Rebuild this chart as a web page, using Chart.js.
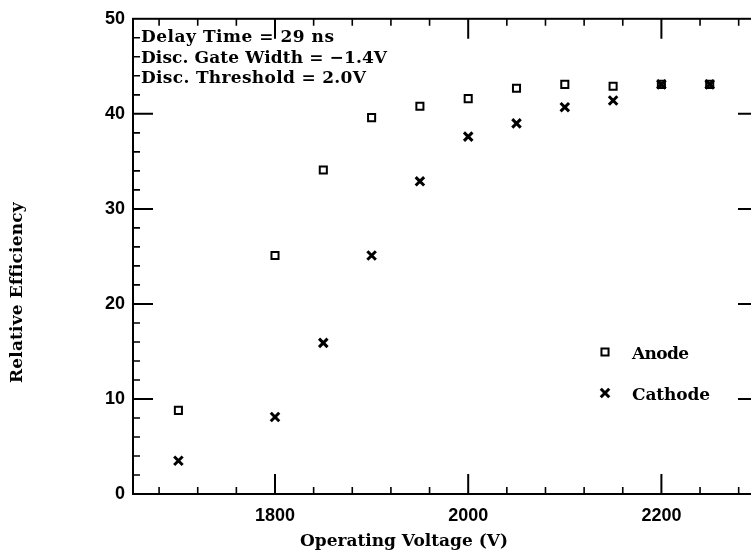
<!DOCTYPE html>
<html>
<head>
<meta charset="utf-8">
<script src="https://cdn.jsdelivr.net/npm/chart.js@4.4.1/dist/chart.umd.min.js"></script>
<style>
  html, body { margin: 0; padding: 0; background: #fff; overflow: hidden; }
  #wrap { width: 751px; height: 555px; overflow: hidden; position: relative; }
  canvas { display: block; }
</style>
</head>
<body>
<div id="wrap"><canvas id="c" width="770" height="555"></canvas></div>
<script>
// Relative efficiency vs operating voltage, anode and cathode readout.
const voltages = [1700, 1800, 1850, 1900, 1950, 2000, 2050, 2100, 2150, 2200, 2250];
const anode    = [8.8, 25.1, 34.1, 39.6, 40.8, 41.6, 42.7, 43.1, 42.9, 43.1, 43.1];
const cathode  = [3.5, 8.1, 15.9, 25.1, 32.9, 37.6, 39.0, 40.7, 41.4, 43.1, 43.1];

const xMajor = [1800, 2000, 2200];
const xMinor = [1680, 1720, 1760, 1840, 1880, 1920, 1960, 2040, 2080, 2120, 2160, 2240, 2280];
const yMajor = [10, 20, 30, 40];
const yMinor = [2, 4, 6, 8, 12, 14, 16, 18, 22, 24, 26, 28, 32, 34, 36, 38, 42, 44, 46, 48];

const notes = ["Delay Time = 29 ns", "Disc. Gate Width = \u22121.4V", "Disc. Threshold = 2.0V"];
const xTitle = "Operating Voltage (V)", yTitle = "Relative Efficiency";
const names = ["Anode", "Cathode"];

const SERIF = '"DejaVu Serif", "Liberation Serif", serif';
const SANS = '"Liberation Sans", Arial, sans-serif';

const pts = ys => voltages.map((v, i) => ({x: v, y: ys[i]}));

const styleA = {pointStyle: "rect", radius: 5, borderWidth: 2};
const styleC = {pointStyle: "crossRot", radius: 6, borderWidth: 3};

function mark(ctx, st, x, y) {
  ctx.save();
  ctx.strokeStyle = "#000"; ctx.lineWidth = st.borderWidth;
  ctx.beginPath();
  if (st.pointStyle === "rect") {
    const s = Math.SQRT1_2 * st.radius;
    ctx.rect(x - s, y - s, 2 * s, 2 * s);
  } else {
    const o = Math.SQRT1_2 * st.radius;
    ctx.moveTo(x - o, y - o); ctx.lineTo(x + o, y + o);
    ctx.moveTo(x + o, y - o); ctx.lineTo(x - o, y + o);
  }
  ctx.stroke();
  ctx.restore();
}

// left-aligned text spread to a given width (the original type is wide, near monospace)
function fitText(ctx, t, x, y, w) {
  ctx.save();
  const n = [...t].length;
  const m = ctx.measureText(t).width;
  if ("letterSpacing" in ctx && n > 1) {
    ctx.letterSpacing = ((w - m) / (n - 1)).toFixed(2) + "px";
    ctx.fillText(t, x, y);
  } else {
    ctx.translate(x, y); ctx.scale(w / m, 1); ctx.fillText(t, 0, 0);
  }
  ctx.restore();
}

const frame = {
  id: "frame",
  afterDraw(chart) {
    const {ctx, chartArea: a, scales: {x, y}} = chart;
    ctx.save();
    ctx.strokeStyle = "#000";
    ctx.lineWidth = 2;
    ctx.strokeRect(a.left, a.top, a.right - a.left, a.bottom - a.top);
    const tick = (vals, len) => {
      vals.forEach(v => {
        const px = x.getPixelForValue(v);
        ctx.moveTo(px, a.bottom); ctx.lineTo(px, a.bottom - len);
        ctx.moveTo(px, a.top); ctx.lineTo(px, a.top + len);
      });
    };
    const ytick = (vals, len) => {
      vals.forEach(v => {
        const py = y.getPixelForValue(v);
        ctx.moveTo(a.left, py); ctx.lineTo(a.left + len, py);
        ctx.moveTo(a.right, py); ctx.lineTo(a.right - len, py);
      });
    };
    ctx.beginPath();
    ctx.lineWidth = 2;
    tick(xMajor, 20); ytick(yMajor, 20);
    ctx.stroke();
    ctx.beginPath();
    ctx.lineWidth = 1.6;
    tick(xMinor, 7); ytick(yMinor, 7);
    ctx.stroke();

    // notes, top left
    ctx.fillStyle = "#000";
    ctx.font = "bold 17px " + SERIF;
    ctx.textAlign = "left"; ctx.textBaseline = "alphabetic";
    const noteW = [193, 246, 225];
    notes.forEach((t, i) => fitText(ctx, t, a.left + 8, 42 + i * 20.5, noteW[i]));

    // legend, lower right
    mark(ctx, styleA, 605, 352);
    mark(ctx, styleC, 605, 393);
    fitText(ctx, names[0], 632, 359, 57);
    fitText(ctx, names[1], 632, 400, 78);

    // axis titles
    fitText(ctx, xTitle, 300, 546, 208);
    ctx.translate(22, 383); ctx.rotate(-Math.PI / 2);
    fitText(ctx, yTitle, 0, 0, 180);
    ctx.restore();
  }
};

new Chart(document.getElementById("c"), {
  type: "scatter",
  data: {datasets: [
    {label: names[0], data: pts(anode), borderColor: "#000", backgroundColor: "rgba(0,0,0,0)", ...styleA, pointRadius: styleA.radius},
    {label: names[1], data: pts(cathode), borderColor: "#000", backgroundColor: "#000", ...styleC, pointRadius: styleC.radius},
  ]},
  options: {
    responsive: false, animation: false, events: [],
    layout: {padding: {left: 0, top: 13, right: 12, bottom: 0}},
    plugins: {legend: {display: false}, tooltip: {enabled: false}},
    scales: {
      x: {type: "linear", min: 1653, max: 2300,
          grid: {display: false, tickLength: 0}, border: {display: false},
          ticks: {stepSize: 200, includeBounds: false, color: "#000", padding: 11,
                  font: {family: SANS, size: 18, weight: "bold"}, maxRotation: 0,
                  callback: v => String(v)},
          afterFit: s => { s.height = 61; }},
      y: {min: 0, max: 50,
          grid: {display: false, tickLength: 0}, border: {display: false},
          ticks: {stepSize: 10, color: "#000", padding: 8,
                  font: {family: SANS, size: 18, weight: "bold"},
                  callback: v => String(v)},
          afterFit: s => { s.width = 133; }}
    }
  },
  plugins: [frame]
});
</script>
</body>
</html>
